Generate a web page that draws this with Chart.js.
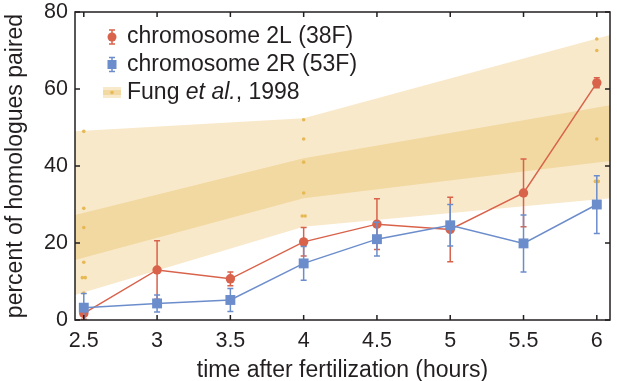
<!DOCTYPE html>
<html>
<head>
<meta charset="utf-8">
<script src="https://cdn.jsdelivr.net/npm/chart.js@4/dist/chart.umd.min.js"></script>
<style>
  body { margin: 0; background: #fff; }
  #wrap { width: 617px; height: 381px; }
</style>
</head>
<body>
<div id="wrap"><canvas id="pairChart" width="617" height="381"></canvas></div>
<script>
// ===== DATA =====
const timePoints = [2.5, 3, 3.5, 4, 4.5, 5, 5.5, 6];

// chromosome 2L (38F)
const pair2L = [1.7, 13, 10.7, 20.3, 24.9, 23.5, 33, 61.6];
const err2L = [1.5, 7.6, 1.8, 3.7, 6.6, 8.4, 8.8, 1.3];

// chromosome 2R (53F)
const pair2R = [3.2, 4.3, 5.2, 14.7, 21, 24.6, 19.9, 30];
const err2R = [3.7, 2.2, 3, 4.4, 4.4, 5.4, 7.4, 7.5];

// Fung et al., 1998 - individual measurements
const fungX = [2.5, 2.5, 2.5, 2.5, 2.49, 2.51, 2.5, 4, 4, 4, 4, 3.99, 4.01, 6, 6, 6, 5.99, 6.01];
const fungY = [49, 29, 24, 15, 11, 11, 7, 52, 47, 41, 33, 27, 27, 73, 70, 47, 36, 36];

// Fung et al. bands (outer and inner)
const bandX = [2.44, 4, 6.09];
const outerHigh = [49, 52.4, 74];
const innerHigh = [27.3, 42, 55.8];
const innerLow = [15.6, 31.6, 41.3];
const outerLow = [6.5, 24.2, 31.6];

const xTicks = [2.5, 3, 3.5, 4, 4.5, 5, 5.5, 6];
const yTicks = [0, 20, 40, 60, 80];

// ===== COLORS =====
const RED = "#d9624b";
const BLUE = "#6c8dcb";
const DOT = "#e6b955";
const BAND_OUT = "#f9e9cb";
const BAND_IN = "#f2d9a2";
const INK = "#231f20";
const FONT = "'Liberation Sans', Arial, sans-serif";

const toPts = (xs, ys) => xs.map((x, i) => ({ x: x, y: ys[i] }));

Chart.defaults.font.family = FONT;
Chart.defaults.color = INK;

// error bars drawn from the scales
const errorBarPlugin = {
  id: "errorBars",
  beforeDatasetDraw(chart, args) {
    const ds = chart.data.datasets[args.index];
    if (!ds.errors) return;
    const { ctx, scales } = chart;
    ctx.save();
    ctx.strokeStyle = ds.borderColor;
    ctx.lineWidth = 1.5;
    ds.data.forEach((p, i) => {
      const x = scales.x.getPixelForValue(p.x);
      const yTop = scales.y.getPixelForValue(p.y + ds.errors[i]);
      const yBot = scales.y.getPixelForValue(Math.max(p.y - ds.errors[i], 0));
      ctx.beginPath();
      ctx.moveTo(x, yTop);
      ctx.lineTo(x, yBot);
      ctx.moveTo(x - 3, yTop);
      ctx.lineTo(x + 3, yTop);
      if (p.y - ds.errors[i] > 0) {
        ctx.moveTo(x - 3, yBot);
        ctx.lineTo(x + 3, yBot);
      }
      ctx.stroke();
    });
    ctx.restore();
  },
};

// frame box with inward ticks + legend
const framePlugin = {
  id: "frame",
  afterDraw(chart) {
    const { ctx, chartArea: a, scales } = chart;
    ctx.save();
    ctx.strokeStyle = INK;
    ctx.lineWidth = 1.5;
    ctx.strokeRect(a.left, a.top, a.right - a.left, a.bottom - a.top);
    ctx.beginPath();
    xTicks.forEach((v) => {
      const x = scales.x.getPixelForValue(v);
      ctx.moveTo(x, a.bottom);
      ctx.lineTo(x, a.bottom - 5);
      ctx.moveTo(x, a.top);
      ctx.lineTo(x, a.top + 5);
    });
    yTicks.forEach((v) => {
      const y = scales.y.getPixelForValue(v);
      ctx.moveTo(a.left, y);
      ctx.lineTo(a.left + 5, y);
      ctx.moveTo(a.right, y);
      ctx.lineTo(a.right - 5, y);
    });
    ctx.stroke();

    // legend
    const mx = 112;
    const tx = 127;
    const rows = [37, 64.5, 92.5];
    ctx.font = "23px " + FONT;
    ctx.textBaseline = "middle";

    // red entry
    ctx.strokeStyle = RED;
    ctx.fillStyle = RED;
    ctx.beginPath();
    ctx.moveTo(mx, rows[0] - 7);
    ctx.lineTo(mx, rows[0] + 7);
    ctx.moveTo(mx - 3, rows[0] - 7);
    ctx.lineTo(mx + 3, rows[0] - 7);
    ctx.moveTo(mx - 3, rows[0] + 7);
    ctx.lineTo(mx + 3, rows[0] + 7);
    ctx.stroke();
    ctx.beginPath();
    ctx.arc(mx, rows[0], 4.5, 0, Math.PI * 2);
    ctx.fill();

    // blue entry
    ctx.strokeStyle = BLUE;
    ctx.fillStyle = BLUE;
    ctx.beginPath();
    ctx.moveTo(mx, rows[1] - 7);
    ctx.lineTo(mx, rows[1] + 7);
    ctx.moveTo(mx - 3, rows[1] - 7);
    ctx.lineTo(mx + 3, rows[1] - 7);
    ctx.moveTo(mx - 3, rows[1] + 7);
    ctx.lineTo(mx + 3, rows[1] + 7);
    ctx.stroke();
    ctx.fillRect(mx - 4.5, rows[1] - 4.5, 9, 9);

    // Fung entry
    ctx.fillStyle = BAND_OUT;
    ctx.fillRect(mx - 9, rows[2] - 5.5, 18, 11);
    ctx.fillStyle = BAND_IN;
    ctx.fillRect(mx - 9, rows[2] - 2.5, 18, 5);
    ctx.fillStyle = DOT;
    ctx.beginPath();
    ctx.arc(mx, rows[2], 1.8, 0, Math.PI * 2);
    ctx.fill();

    ctx.fillStyle = INK;
    ctx.fillText("chromosome 2L (38F)", tx, rows[0]);
    ctx.fillText("chromosome 2R (53F)", tx, rows[1]);
    ctx.fillText("Fung ", tx, rows[2]);
    let w = ctx.measureText("Fung ").width;
    ctx.font = "italic 23px " + FONT;
    ctx.fillText("et al.", tx + w, rows[2]);
    w += ctx.measureText("et al.").width;
    ctx.font = "23px " + FONT;
    ctx.fillText(", 1998", tx + w, rows[2]);
    ctx.restore();
  },
};

new Chart(document.getElementById("pairChart"), {
  type: "scatter",
  data: {
    datasets: [
      {
        label: "chromosome 2R (53F)",
        data: toPts(timePoints, pair2R),
        errors: err2R,
        showLine: true,
        borderColor: BLUE,
        backgroundColor: BLUE,
        borderWidth: 1.5,
        pointRadius: 7,
        pointStyle: "rect",
        pointBorderWidth: 0,
        order: 1,
      },
      {
        label: "chromosome 2L (38F)",
        data: toPts(timePoints, pair2L),
        errors: err2L,
        showLine: true,
        borderColor: RED,
        backgroundColor: RED,
        borderWidth: 1.5,
        pointRadius: 4.7,
        pointStyle: "circle",
        pointBorderWidth: 0,
        order: 2,
      },
      {
        label: "Fung dots",
        data: toPts(fungX, fungY),
        backgroundColor: DOT,
        pointRadius: 1.8,
        pointBorderWidth: 0,
        order: 3,
      },
      {
        label: "inner high",
        data: toPts(bandX, innerHigh),
        showLine: true,
        borderWidth: 0,
        pointRadius: 0,
        backgroundColor: BAND_IN,
        fill: "+1",
        order: 4,
      },
      {
        label: "inner low",
        data: toPts(bandX, innerLow),
        showLine: true,
        borderWidth: 0,
        pointRadius: 0,
        order: 5,
      },
      {
        label: "outer high",
        data: toPts(bandX, outerHigh),
        showLine: true,
        borderWidth: 0,
        pointRadius: 0,
        backgroundColor: BAND_OUT,
        fill: "+1",
        order: 6,
      },
      {
        label: "outer low",
        data: toPts(bandX, outerLow),
        showLine: true,
        borderWidth: 0,
        pointRadius: 0,
        order: 7,
      },
    ],
  },
  options: {
    responsive: false,
    animation: false,
    layout: { padding: { top: 12, right: 1, left: 0, bottom: 0 } },
    plugins: { legend: { display: false }, tooltip: { enabled: false } },
    scales: {
      x: {
        type: "linear",
        min: 2.44,
        max: 6.09,
        afterBuildTicks: (s) => {
          s.ticks = xTicks.map((v) => ({ value: v }));
        },
        afterFit: (s) => {
          s.height = 61;
          s.paddingLeft = 0;
          s.paddingRight = 0;
        },
        grid: { display: false, drawTicks: false },
        border: { display: false },
        ticks: {
          font: { size: 21.5 },
          padding: 8,
          color: INK,
          maxRotation: 0,
          callback: (v) => String(v),
        },
        title: {
          display: true,
          text: "time after fertilization (hours)",
          font: { size: 23 },
          color: INK,
          padding: { top: 0, bottom: -3 },
        },
      },
      y: {
        min: 0,
        max: 80,
        afterBuildTicks: (s) => {
          s.ticks = yTicks.map((v) => ({ value: v }));
        },
        afterFit: (s) => {
          s.width = 75;
          s.paddingTop = 0;
          s.paddingBottom = 0;
        },
        grid: { display: false, drawTicks: false },
        border: { display: false },
        ticks: { font: { size: 21.5 }, padding: 7, color: INK },
        title: {
          display: true,
          text: "percent of homologues paired",
          font: { size: 23 },
          color: INK,
          padding: { top: 2, bottom: 0 },
        },
      },
    },
  },
  plugins: [errorBarPlugin, framePlugin],
});
</script>
</body>
</html>
